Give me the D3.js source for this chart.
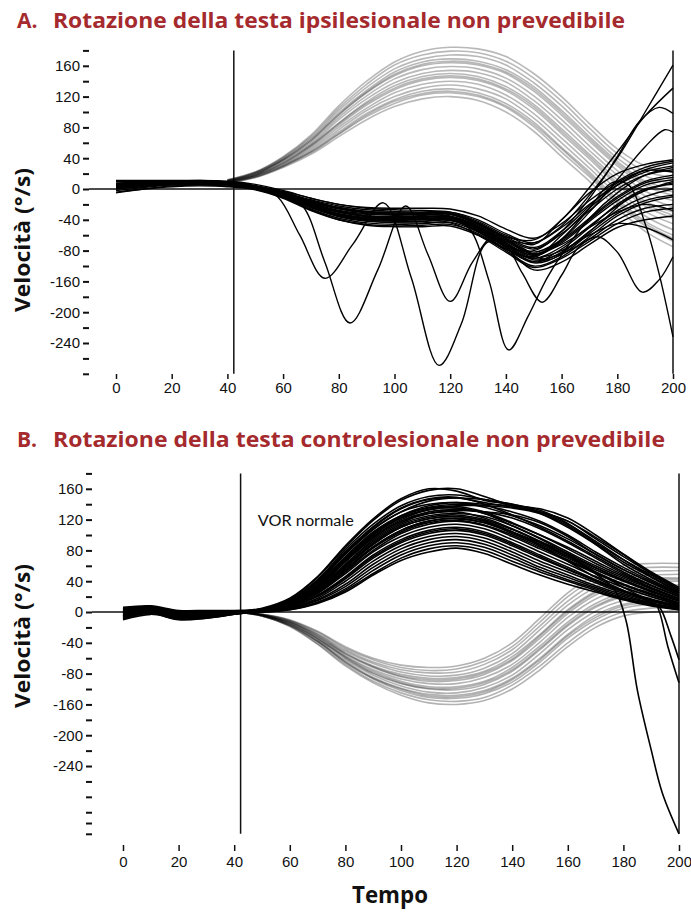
<!DOCTYPE html>
<html lang="it">
<head>
<meta charset="utf-8">
<title>Rotazione della testa non prevedibile</title>
<script src="https://cdn.jsdelivr.net/npm/d3@7"></script>
<style>
  body { margin: 0; background: #fff; }
  svg { display: block; font-family: Lato, "Open Sans", sans-serif; }
  .title { font-family: "Open Sans", Lato, sans-serif; font-weight: 700; font-size: 21px; fill: #a52a2e; }
  .tick text { font-size: 15px; fill: #111; }
  .axis-title { font-family: "Open Sans", Lato, sans-serif; font-weight: 700; font-size: 21px; fill: #111; }
  .note { font-size: 15px; fill: #111; }
</style>
</head>
<body>
<svg id="chart" width="691" height="912"></svg>
<script>
// --- assi ---
const xTicks = [0, 20, 40, 60, 80, 100, 120, 140, 160, 180, 200];
const yTickVals = [160, 120, 80, 40, 0, -40, -80, -120, -160, -200];
const yTickLabels = ["160", "120", "80", "40", "0", "-40", "-80", "-160", "-200", "-240"];
const yMinorA = [180, 140, 100, 60, 20, -20, -60, -100, -140, -180, -220, -240];
const yMinorB = [180, 140, 100, 60, 20, -20, -60, -100, -140, -180, -220, -240, -260, -274, -288];
const markerTime = 42.3;

// --- griglie temporali ---
const eyeTime = [0, 10, 20, 30, 40, 50, 60, 70, 80, 90, 100, 110, 120, 130, 140, 150, 160, 170, 180, 190, 200];
const headTime = [40, 50, 60, 70, 80, 90, 100, 110, 120, 130, 140, 150, 160, 170, 180, 190, 200];

// --- A: velocità della testa (grigio) ---
const headA = [
  [8, 15, 28, 45, 68, 90, 107, 117, 120, 115, 100, 75, 42, 10, -25, -55, -75],
  [8, 15, 29, 47, 71, 94, 111, 122, 125, 120, 106, 81, 48, 16, -19, -48, -68],
  [9, 16, 30, 49, 74, 98, 116, 127, 130, 125, 111, 87, 54, 22, -13, -42, -60],
  [9, 17, 31, 51, 77, 102, 120, 131, 135, 130, 117, 92, 60, 27, -7, -35, -53],
  [9, 17, 32, 53, 80, 105, 125, 136, 140, 136, 122, 98, 66, 33, -1, -29, -45],
  [10, 18, 33, 55, 83, 109, 129, 141, 145, 141, 128, 104, 72, 39, 5, -22, -38],
  [10, 18, 34, 57, 86, 113, 134, 146, 150, 146, 133, 110, 78, 45, 12, -16, -30],
  [10, 19, 36, 58, 90, 117, 138, 150, 154, 151, 139, 115, 84, 50, 18, -9, -23],
  [10, 19, 37, 60, 93, 121, 143, 155, 159, 156, 144, 121, 90, 56, 24, -3, -15],
  [11, 20, 38, 62, 96, 125, 147, 160, 164, 161, 150, 127, 96, 62, 30, 4, -8],
  [11, 21, 39, 64, 99, 128, 152, 165, 169, 166, 155, 133, 102, 68, 36, 10, 0],
  [11, 21, 40, 66, 102, 132, 156, 169, 174, 172, 161, 138, 108, 73, 40, 17, 7],
  [12, 22, 41, 68, 105, 136, 161, 174, 179, 177, 166, 144, 114, 79, 46, 23, 15],
  [12, 22, 42, 70, 108, 140, 165, 179, 184, 182, 172, 150, 120, 85, 52, 30, 22],
  [9, 16, 30, 48, 72, 96, 114, 124, 127, 122, 108, 84, 52, 19, -16, -45, -64],
  [10, 18, 34, 56, 85, 111, 131, 143, 147, 143, 130, 107, 75, 42, 8, -19, -34],
  [11, 20, 38, 63, 97, 126, 149, 162, 166, 163, 152, 130, 99, 65, 33, 7, -4]
];

// --- A: velocità dell'occhio, fascio principale ---
const eyeA = [
  [6, 8, 10, 11, 10, 6, -2, -12, -20, -24, -25, -25, -26, -35, -52, -64, -45, -15, 10, 28, 36],
  [4, 6, 8, 9, 8, 3, -5, -16, -25, -29, -30, -30, -30, -40, -58, -70, -50, -20, 5, 22, 30],
  [2, 5, 7, 8, 7, 2, -7, -19, -29, -33, -34, -33, -32, -44, -64, -78, -58, -28, 0, 18, 25],
  [11, 11, 11, 11, 9, 4, -4, -15, -24, -30, -32, -32, -33, -46, -66, -82, -66, -38, -10, 10, 18],
  [0, 3, 6, 7, 6, 1, -8, -22, -33, -39, -40, -39, -38, -50, -70, -86, -70, -42, -15, 5, 12],
  [5, 7, 8, 9, 7, 2, -9, -24, -36, -42, -43, -42, -40, -52, -74, -90, -75, -48, -22, -2, 8],
  [-5, 0, 4, 5, 4, 0, -10, -26, -38, -44, -46, -45, -43, -56, -78, -95, -82, -55, -28, -10, 0],
  [3, 5, 7, 8, 6, 0, -11, -27, -40, -46, -48, -47, -46, -58, -80, -100, -88, -62, -35, -18, -10],
  [10, 10, 10, 10, 8, 3, -6, -18, -28, -35, -37, -37, -37, -50, -72, -92, -84, -65, -40, -25, -20],
  [1, 4, 6, 7, 6, 1, -8, -20, -30, -36, -38, -38, -38, -52, -76, -105, -95, -72, -50, -40, -35],
  [8, 9, 10, 10, 8, 3, -6, -17, -26, -31, -33, -34, -35, -48, -70, -88, -60, -25, 5, 25, 34],
  [4, 6, 8, 8, 7, 1, -9, -22, -32, -37, -39, -39, -39, -52, -74, -94, -78, -50, -20, 0, 6],
  [-2, 2, 5, 6, 5, 0, -10, -24, -35, -41, -44, -44, -44, -60, -82, -102, -90, -68, -45, -30, -25],
  [5, 7, 9, 10, 9, 4, -3, -12, -20, -25, -27, -28, -30, -42, -60, -72, -40, -5, 20, 32, 38],
  [-4, 0, 3, 4, 3, -1, -12, -28, -40, -47, -49, -49, -48, -60, -78, -90, -80, -60, -45, -50, -66],
  [3, 6, 8, 9, 8, 2, -7, -20, -30, -35, -36, -36, -36, -48, -68, -84, -72, -50, -30, -20, -28],
  [7, 8, 9, 9, 8, 3, -5, -14, -22, -27, -29, -30, -31, -44, -62, -76, -55, -22, 8, 24, 22],
  [1, 4, 6, 7, 6, 1, -9, -23, -34, -40, -42, -42, -41, -54, -76, -96, -85, -58, -32, -15, -8]
];

// --- A: tracce con saccadi (coppie tempo, velocità) ---
const saccadeA = [
  [[0, 5], [10, 7], [20, 9], [30, 9], [40, 8], [50, 3], [58, -10], [66, -60], [75, -116], [85, -72], [96, -18], [106, -115], [116, -229], [124, -175], [133, -70], [140, -68], [150, -85], [160, -68], [170, -40], [180, -12], [190, 8], [200, 15]],
  [[0, 2], [10, 5], [20, 7], [30, 8], [40, 7], [50, 2], [60, -8], [67, -22], [75, -95], [84, -174], [94, -105], [104, -22], [112, -85], [120, -146], [128, -95], [136, -60], [145, -75], [155, -92], [165, -70], [175, -40], [185, -10], [200, 10]],
  [[0, 4], [10, 6], [20, 8], [30, 9], [40, 8], [50, 3], [60, -6], [70, -18], [80, -28], [90, -32], [100, -33], [110, -33], [120, -36], [127, -52], [134, -120], [141, -209], [148, -165], [155, -114], [162, -75], [170, -38], [180, -5], [190, 18], [200, 28]],
  [[0, 6], [10, 8], [20, 9], [30, 10], [40, 9], [50, 4], [60, -4], [70, -15], [80, -24], [90, -29], [100, -31], [110, -31], [120, -32], [130, -45], [140, -72], [146, -110], [153, -147], [160, -112], [166, -76], [173, -62], [180, -82], [189, -134], [195, -118], [200, -88]],
  [[0, 3], [10, 5], [20, 7], [30, 8], [40, 7], [50, 1], [60, -9], [70, -22], [80, -33], [90, -38], [100, -39], [110, -39], [120, -38], [130, -50], [140, -72], [150, -86], [160, -65], [170, -25], [178, 8], [184, 5], [190, -45], [195, -110], [200, -192]],
  [[0, 5], [10, 7], [20, 8], [30, 9], [40, 8], [50, 2], [60, -7], [70, -20], [80, -30], [90, -35], [100, -36], [110, -36], [120, -37], [130, -50], [140, -66], [150, -70], [160, -48], [170, -8], [180, 40], [190, 100], [200, 161]],
  [[0, 1], [10, 4], [20, 6], [30, 7], [40, 6], [50, 1], [60, -9], [70, -23], [80, -34], [90, -40], [100, -41], [110, -40], [120, -40], [130, -54], [140, -74], [150, -80], [160, -55], [170, -12], [180, 42], [188, 88], [195, 106], [200, 98]],
  [[0, 7], [10, 8], [20, 9], [30, 10], [40, 9], [50, 4], [60, -5], [70, -16], [80, -25], [90, -30], [100, -32], [110, -32], [120, -33], [130, -46], [140, -62], [150, -66], [160, -40], [170, 2], [180, 48], [190, 95], [200, 131]],
  [[0, 2], [10, 5], [20, 7], [30, 8], [40, 7], [50, 2], [60, -8], [70, -21], [80, -32], [90, -38], [100, -40], [110, -40], [120, -40], [130, -55], [140, -78], [150, -88], [160, -66], [170, -30], [180, 12], [190, 55], [197, 77], [200, 74]]
];

// --- B: velocità della testa (grigio) ---
const headB = [
  [0, -3, -10, -25, -45, -60, -69, -72, -70, -60, -40, -8, 25, 48, 60, 63, 63],
  [0, -3, -11, -26, -47, -62, -72, -76, -74, -64, -45, -13, 20, 43, 55, 58, 58],
  [0, -3, -11, -28, -49, -65, -75, -79, -78, -68, -49, -18, 14, 38, 50, 53, 54],
  [0, -3, -12, -29, -51, -67, -78, -83, -82, -73, -54, -23, 9, 32, 45, 48, 49],
  [0, -4, -13, -30, -53, -70, -81, -86, -85, -77, -58, -29, 3, 27, 40, 44, 44],
  [0, -4, -13, -32, -55, -72, -84, -90, -89, -81, -63, -34, -2, 22, 35, 39, 40],
  [0, -4, -14, -33, -57, -75, -87, -93, -93, -85, -68, -39, -7, 17, 30, 34, 35],
  [0, -4, -15, -34, -58, -77, -90, -97, -97, -90, -72, -44, -13, 11, 25, 29, 30],
  [0, -4, -16, -35, -60, -80, -93, -100, -101, -94, -77, -49, -18, 6, 20, 24, 26],
  [0, -4, -16, -37, -62, -82, -96, -104, -105, -98, -82, -54, -23, 1, 15, 19, 21],
  [0, -5, -17, -38, -64, -85, -99, -107, -108, -102, -86, -60, -29, -4, 10, 15, 16],
  [0, -5, -18, -39, -66, -87, -102, -111, -112, -106, -91, -65, -34, -10, 5, 10, 12],
  [0, -5, -18, -41, -68, -90, -105, -114, -116, -111, -95, -70, -40, -15, 0, 5, 7],
  [0, -5, -19, -42, -70, -92, -108, -118, -120, -115, -100, -75, -45, -20, -5, 0, 2],
  [0, -4, -13, -31, -54, -71, -83, -88, -87, -79, -61, -31, 1, 25, 38, 42, 42],
  [0, -4, -15, -35, -59, -79, -92, -99, -99, -92, -75, -47, -16, 8, 22, 27, 28],
  [0, -5, -17, -38, -65, -86, -100, -109, -110, -104, -88, -62, -31, -7, 8, 12, 14]
];

// --- B: velocità dell'occhio ---
const eyeB = [
  [6, 8, 2, 2, 2, 4, 17, 45, 84, 119, 145, 158, 160, 150, 138, 130, 118, 95, 72, 50, 30],
  [0, 4, -3, -2, 0, 5, 18, 46, 86, 121, 147, 160, 157, 145, 140, 132, 115, 90, 68, 48, 28],
  [-6, 1, -8, -6, -2, 4, 16, 42, 81, 114, 138, 150, 152, 146, 138, 128, 110, 88, 65, 45, 25],
  [3, 6, -1, 0, 1, 4, 15, 40, 78, 110, 134, 146, 148, 142, 136, 130, 118, 97, 75, 52, 32],
  [-9, -2, -10, -8, -3, 3, 14, 38, 76, 108, 130, 140, 142, 136, 125, 112, 95, 75, 55, 38, 22],
  [-3, 2, -5, -3, -1, 3, 13, 36, 72, 104, 125, 136, 140, 138, 130, 118, 100, 78, 58, 40, 24],
  [5, 7, 1, 1, 1, 3, 12, 34, 68, 100, 122, 133, 135, 128, 115, 100, 84, 66, 48, 32, 18],
  [-7, 0, -8, -6, -2, 2, 11, 32, 65, 96, 118, 130, 133, 130, 122, 108, 90, 70, 50, 34, 20],
  [4, 7, 0, 0, 1, 3, 12, 33, 66, 97, 118, 128, 130, 122, 108, 92, 76, 58, 42, 28, 15],
  [-1, 3, -3, -3, -1, 2, 10, 30, 62, 92, 114, 125, 128, 124, 112, 96, 78, 60, 44, 30, 17],
  [-10, -3, -9, -8, -3, 2, 10, 28, 58, 88, 110, 121, 124, 118, 104, 88, 72, 55, 40, 26, 14],
  [-2, 2, -5, -4, -1, 2, 9, 27, 56, 85, 106, 118, 121, 116, 102, 86, 70, 52, 36, 24, 12],
  [3, 5, -1, -1, 0, 2, 9, 25, 52, 80, 102, 114, 118, 112, 98, 82, 66, 50, 35, 22, 10],
  [-5, 1, -7, -5, -2, 1, 8, 24, 50, 78, 98, 110, 114, 108, 94, 78, 62, 46, 32, 20, 9],
  [-4, 1, -6, -4, -2, 1, 7, 22, 46, 74, 94, 106, 110, 104, 90, 74, 58, 42, 28, 17, 8],
  [2, 4, -2, -2, 0, 1, 7, 20, 43, 70, 90, 102, 106, 100, 86, 70, 55, 40, 26, 15, 7],
  [-8, -1, -9, -7, -3, 1, 6, 18, 40, 66, 86, 98, 102, 96, 82, 66, 52, 38, 24, 14, 6],
  [-1, 2, -4, -4, -1, 0, 5, 16, 36, 62, 82, 94, 98, 92, 78, 62, 48, 34, 22, 12, 5],
  [5, 6, 1, 0, 1, 1, 5, 15, 33, 58, 78, 90, 94, 88, 74, 58, 45, 32, 20, 11, 4],
  [0, 2, -3, -3, -1, 0, 4, 13, 30, 54, 74, 86, 90, 84, 70, 55, 42, 30, 18, 10, 4],
  [-6, 0, -7, -6, -2, 0, 3, 12, 28, 50, 70, 82, 86, 80, 66, 52, 40, 28, 17, 9, 3],
  [1, 3, -2, -3, -1, 0, 3, 11, 26, 48, 67, 78, 83, 76, 62, 48, 36, 26, 16, 8, 3],
  [2, 4, -2, -1, 0, 3, 12, 35, 70, 102, 125, 138, 142, 140, 138, 134, 122, 100, 75, 50, 30],
  [0, 3, -3, -2, 0, 3, 11, 32, 66, 98, 120, 133, 138, 138, 135, 128, 112, 88, 62, 42, 25],
  [-1, 3, -4, -3, 0, 2, 10, 30, 62, 94, 116, 128, 132, 130, 126, 116, 98, 75, 55, 38, 22],
  [4, 6, 0, 0, 1, 4, 15, 40, 78, 111, 135, 147, 149, 140, 126, 110, 92, 72, 52, 35, 20],
  [-3, 2, -5, -4, -1, 2, 12, 34, 70, 102, 124, 135, 137, 130, 116, 100, 82, 63, 46, 31, 17],
  [2, 5, -1, -1, 0, 2, 10, 29, 60, 90, 112, 123, 126, 120, 107, 91, 74, 57, 41, 27, 15],
  [-5, 1, -6, -5, -2, 1, 8, 26, 54, 83, 104, 116, 119, 113, 100, 84, 68, 51, 36, 23, 11],
  [1, 4, -2, -2, 0, 1, 7, 21, 45, 72, 92, 104, 108, 102, 88, 72, 56, 41, 27, 16, 8],
  [3, 5, 0, -1, 0, 3, 14, 38, 75, 107, 130, 144, 148, 146, 140, 130, 114, 92, 68, 46, 27]
];

// --- B: tracce che crollano alla fine ---
const dropB = [
  [[0, 0], [10, 3], [20, -3], [30, -2], [40, 0], [50, 3], [60, 12], [70, 34], [80, 68], [90, 100], [100, 122], [110, 133], [120, 135], [130, 128], [140, 112], [150, 95], [160, 75], [170, 50], [177, 28], [181, -12], [185, -101], [190, -179], [194, -235], [200, -288]],
  [[0, 1], [10, 4], [20, -2], [30, -2], [40, 0], [50, 2], [60, 10], [70, 28], [80, 58], [90, 88], [100, 110], [110, 121], [120, 124], [130, 118], [140, 104], [150, 86], [160, 66], [170, 45], [180, 28], [190, 12], [193, 6], [197, -30], [200, -62]],
  [[0, -1], [10, 3], [20, -3], [30, -3], [40, -1], [50, 2], [60, 9], [70, 26], [80, 54], [90, 84], [100, 106], [110, 118], [120, 122], [130, 116], [140, 104], [150, 90], [160, 72], [170, 52], [180, 32], [189, 15], [192, 8], [196, -45], [200, -92]]
];

const panels = [
  { letter: "A.", title: "Rotazione della testa ipsilesionale non prevedibile", titleY: 28, titleLen: 572,
    xRange: [116, 673], yDomain: [-240, 180], yRange: [373.8, 50.4], axisX: 89,
    xAxisY: 374, xTickSize: 5, xTickPad: 3, yTitleY: 240, minor: yMinorA,
    head: headA, eye: eyeA, extra: saccadeA, headOpacity: 0.28, eyeWidth: 1.4, note: null },
  { letter: "B.", title: "Rotazione della testa controlesionale non prevedibile", titleY: 447, titleLen: 612,
    xRange: [123, 679], yDomain: [-288, 180], yRange: [833.8, 473.4], axisX: 92,
    xAxisY: 845, xTickSize: 6, xTickPad: 5, yTitleY: 636, minor: yMinorB,
    head: headB, eye: eyeB, extra: dropB, headOpacity: 0.3, eyeWidth: 1.6,
    note: { t: 48.5, v: 112, text: "VOR normale" } }
];

const svg = d3.select("#chart");

panels.forEach(p => {
  const x = d3.scaleLinear().domain([0, 200]).range(p.xRange);
  const y = d3.scaleLinear().domain(p.yDomain).range(p.yRange);
  const g = svg.append("g");

  // titolo
  g.append("text").attr("class", "title").attr("x", 17).attr("y", p.titleY).text(p.letter);
  g.append("text").attr("class", "title").attr("x", 53).attr("y", p.titleY)
    .attr("textLength", p.titleLen).attr("lengthAdjust", "spacingAndGlyphs")
    .text(p.title);

  // asse y
  const allTicks = yTickVals.concat(p.minor).sort((a, b) => b - a);
  const yAxis = d3.axisLeft(y)
    .tickValues(allTicks)
    .tickSize(6)
    .tickPadding(3)
    .tickFormat(v => {
      const i = yTickVals.indexOf(v);
      return i >= 0 ? yTickLabels[i] : "";
    });
  const ya = g.append("g").attr("transform", `translate(${p.axisX},0)`).call(yAxis);
  ya.select(".domain").remove();
  ya.selectAll(".tick line").attr("stroke", "#111").attr("stroke-width", 2);

  // asse x
  const xAxis = d3.axisBottom(x).tickValues(xTicks).tickSize(p.xTickSize).tickPadding(p.xTickPad);
  const xa = g.append("g").attr("transform", `translate(0,${p.xAxisY})`).call(xAxis);
  xa.select(".domain").remove();
  xa.selectAll(".tick line").attr("stroke", "#111").attr("stroke-width", 1.5);

  // titolo asse y
  g.append("text")
    .attr("class", "axis-title")
    .attr("transform", `translate(22,${p.yTitleY}) rotate(-90)`)
    .attr("text-anchor", "middle")
    .attr("dominant-baseline", "central")
    .attr("textLength", 144)
    .attr("lengthAdjust", "spacingAndGlyphs")
    .text("Velocità (°/s)");

  // linee di riferimento
  g.append("line")
    .attr("x1", p.axisX).attr("x2", x(200))
    .attr("y1", y(0)).attr("y2", y(0))
    .attr("stroke", "#111").attr("stroke-width", 1.5);
  [markerTime, 200].forEach(tv => {
    g.append("line")
      .attr("x1", x(tv)).attr("x2", x(tv))
      .attr("y1", y(p.yDomain[1])).attr("y2", y(p.yDomain[0]))
      .attr("stroke", "#111").attr("stroke-width", 1.5);
  });

  const line = d3.line()
    .x(d => x(d[0]))
    .y(d => y(d[1]))
    .curve(d3.curveCatmullRom.alpha(0.5));

  // testa (grigio)
  g.append("g").selectAll("path")
    .data(p.head.map(s => headTime.map((tv, i) => [tv, s[i]])))
    .join("path")
    .attr("d", line)
    .attr("fill", "none")
    .attr("stroke", "#000")
    .attr("stroke-opacity", p.headOpacity)
    .attr("stroke-width", 1.6);

  // occhio (nero)
  const eyeSeries = p.eye.map(s => eyeTime.map((tv, i) => [tv, s[i]])).concat(p.extra);
  g.append("g").selectAll("path")
    .data(eyeSeries)
    .join("path")
    .attr("d", line)
    .attr("fill", "none")
    .attr("stroke", "#000")
    .attr("stroke-width", p.eyeWidth);

  if (p.note) {
    g.append("text")
      .attr("class", "note")
      .attr("x", x(p.note.t))
      .attr("y", y(p.note.v))
      .attr("textLength", 96)
      .attr("lengthAdjust", "spacingAndGlyphs")
      .text(p.note.text);
  }
});

// titolo asse x
svg.append("text")
  .attr("class", "axis-title")
  .attr("x", 390)
  .attr("y", 903)
  .attr("text-anchor", "middle")
  .attr("textLength", 76)
  .attr("lengthAdjust", "spacingAndGlyphs")
  .style("font-size", "23px")
  .text("Tempo");
</script>
</body>
</html>
